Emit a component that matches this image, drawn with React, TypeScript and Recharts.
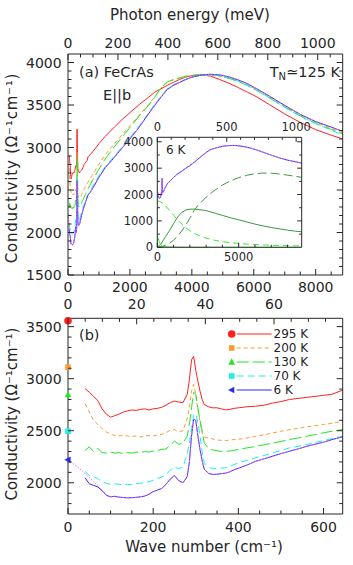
import React from 'react';
import { ComposedChart, LineChart, Line, XAxis, YAxis, Scatter, Legend } from 'recharts';

const FONT = '"DejaVu Sans", Verdana, sans-serif';
const INK = '#262626';

// ---------------- data (conductivity in Ω⁻¹cm⁻¹ vs wave number in cm⁻¹) ----------------
const waveLow = [40, 50, 60, 70, 80, 90, 100, 110, 120, 130, 140, 150, 160, 170, 180, 190, 200, 210, 220, 230, 240, 250, 260, 270, 280,
  285, 290, 295, 300, 305, 310, 315, 320,
  330, 340, 350, 360, 370, 380, 390, 400,
  420, 440, 460, 480, 500, 520, 540, 560, 580, 600, 620, 645];
const waveHigh = [700, 800, 1000, 1200, 1500, 1750, 2000, 2300, 2600, 2800, 3000, 3200, 3400, 3600, 3800, 4000, 4300, 4600, 4900, 5200, 5500, 5800, 6100, 6500, 7000, 7500, 8000, 8500, 8872];

const s295Low = [2905, 2870, 2830, 2790, 2710, 2660, 2630, 2645, 2660, 2680, 2690, 2700, 2695, 2705, 2710, 2700, 2710, 2715, 2725, 2745, 2770, 2785, 2775, 2770, 2850,
  2990, 3180, 3215, 3080, 2975, 2880, 2800, 2750,
  2730, 2720, 2720, 2710, 2700, 2705, 2715, 2720,
  2730, 2735, 2745, 2765, 2780, 2800, 2810, 2820, 2830, 2840, 2850, 2890];
const s200Low = [2760, 2680, 2600, 2560, 2520, 2490, 2465, 2455, 2450, 2455, 2450, 2445, 2450, 2440, 2448, 2455, 2450, 2458, 2465, 2480, 2505, 2510, 2490, 2500, 2620,
  2720, 2880, 2945, 2850, 2700, 2580, 2480, 2440,
  2430, 2420, 2410, 2408, 2405, 2410, 2415, 2418,
  2430, 2445, 2460, 2478, 2495, 2510, 2522, 2537, 2548, 2560, 2572, 2590];
const s130Low = [2310, 2345, 2300, 2330, 2290, 2285, 2295, 2285, 2290, 2280, 2290, 2285, 2295, 2290, 2300, 2295, 2305, 2310, 2320, 2325, 2360, 2400, 2370, 2380, 2450,
  2560, 2720, 2870, 2850, 2720, 2600, 2500, 2380,
  2330, 2315, 2308, 2300, 2302, 2305, 2312, 2320,
  2335, 2348, 2365, 2380, 2397, 2415, 2430, 2447, 2462, 2480, 2495, 2512];
const s70Low = [2110, 2070, 2057, 2040, 2010, 1995, 1985, 1990, 1985, 1980, 1985, 1982, 1990, 1995, 2000, 2010, 2025, 2040, 2055, 2080, 2120, 2150, 2135, 2150, 2280,
  2380, 2520, 2650, 2665, 2580, 2450, 2300, 2190,
  2150, 2135, 2135, 2140, 2145, 2155, 2175, 2190,
  2215, 2240, 2262, 2287, 2310, 2335, 2350, 2367, 2386, 2405, 2425, 2447];
const s6Low = [2048, 1990, 1975, 1960, 1925, 1880, 1865, 1870, 1862, 1858, 1855, 1857, 1860, 1865, 1872, 1890, 1915, 1930, 1945, 1985, 2035, 2070, 2020, 2000, 2060,
  2200, 2447, 2610, 2600, 2450, 2320, 2210, 2130,
  2090, 2080, 2082, 2088, 2092, 2105, 2125, 2140,
  2170, 2205, 2230, 2255, 2280, 2303, 2325, 2350, 2370, 2390, 2415, 2441];

const s295High = [2910, 2950, 3045, 3130, 3240, 3330, 3410, 3505, 3590, 3650, 3690, 3730, 3765, 3800, 3828, 3845, 3855, 3840, 3800, 3755, 3705, 3650, 3595, 3505, 3395, 3295, 3210, 3145, 3100];
const s200High = [2625, 2685, 2805, 2915, 3045, 3150, 3255, 3380, 3505, 3595, 3700, 3765, 3795, 3815, 3830, 3842, 3850, 3850, 3840, 3815, 3780, 3735, 3680, 3597, 3488, 3385, 3298, 3225, 3170];
const s130High = [2550, 2620, 2745, 2865, 3010, 3125, 3235, 3370, 3495, 3590, 3700, 3770, 3800, 3820, 3838, 3850, 3858, 3856, 3843, 3813, 3776, 3728, 3670, 3585, 3475, 3372, 3285, 3212, 3158];
const s70High = [2480, 2545, 2670, 2775, 2900, 3010, 3115, 3255, 3405, 3505, 3600, 3690, 3738, 3770, 3803, 3828, 3848, 3855, 3845, 3818, 3780, 3733, 3673, 3585, 3473, 3366, 3280, 3205, 3145];
const s6High = [2460, 2520, 2650, 2760, 2885, 2995, 3100, 3240, 3395, 3495, 3590, 3680, 3730, 3765, 3800, 3828, 3852, 3862, 3855, 3830, 3795, 3750, 3690, 3605, 3495, 3390, 3305, 3240, 3190];

// Drude-Lorentz fit of the 6 K spectrum below the measured range
const fitLowWave = [0, 20, 40, 60, 80];
const fitLowSigma = [2220, 2160, 2090, 2010, 1930];

// DC conductivities (plotted at zero wave number)
const dcSigma = [3557, 3111, 2846, 2495, 2220];
const tempLabels = ['295 K', '200 K', '130 K', '70 K', '6 K'];

// Inset: 6 K fit components
const compWave = [0, 100, 200, 300, 500, 750, 1000, 1250, 1500, 1750, 2000, 2250, 2500, 3000, 3500, 4000, 4500, 5000, 5500, 6000, 6500, 7000, 7500, 8000, 8500, 8872];
const lorentzMid = [0, 50, 110, 200, 400, 630, 900, 1150, 1320, 1410, 1445, 1448, 1435, 1390, 1300, 1210, 1120, 1040, 960, 880, 810, 750, 700, 650, 610, 590];
const lorentzHigh = [0, 5, 15, 30, 80, 160, 270, 420, 620, 850, 1100, 1380, 1590, 1900, 2150, 2360, 2520, 2640, 2730, 2790, 2815, 2810, 2780, 2735, 2690, 2650];
const drudeBroad = [1750, 1745, 1720, 1685, 1580, 1400, 1215, 1040, 880, 740, 630, 530, 460, 350, 270, 215, 175, 145, 120, 105, 90, 80, 70, 62, 55, 50];
const drudeNarrow = [430, 250, 100, 50, 20, 10, 6, 4, 3, 2, 2, 1, 1, 1, 1, 0, 0, 0, 0, 0, 0, 0, 0, 0, 0, 0];

// axis ranges and ticks
const mainCmRange = [0, 8872];
const mainMevRange = [0, 1100];
const insetMevRange = [0, 1040];
const mainYRange = [1500, 4100];
const lowCmRange = [0, 645];
const lowMevRange = [0, 80];
const lowYRange = [1700, 3580];
const insetYRange = [0, 4170];
const mainYMajor = [1500, 2000, 2500, 3000, 3500, 4000];
const mainCmMajor = [0, 2000, 4000, 6000, 8000];
const mainMevMajor = [0, 200, 400, 600, 800, 1000];
const lowYMajor = [2000, 2500, 3000, 3500];
const lowCmMajor = [0, 200, 400, 600];
const lowMevMajor = [0, 20, 40, 60];
const insetYMajor = [0, 1000, 2000, 3000, 4000];
const insetCmMajor = [0, 5000];
const insetMevMajor = [0, 500, 1000];

// ---------------- helpers ----------------
const pts = (xs: number[], ys: number[]) => xs.map((x, i) => ({ x, y: ys[i] }));
const steps = (from: number, to: number, step: number) => {
  const out: number[] = [];
  for (let v = from; v <= to + 1e-9; v += step) out.push(Math.round(v * 1000) / 1000);
  return out;
};

const waveAll = [...waveLow, ...waveHigh];
const d295 = pts(waveAll, [...s295Low, ...s295High]);
const d200 = pts(waveAll, [...s200Low, ...s200High]);
const d130 = pts(waveAll, [...s130Low, ...s130High]);
const d70 = pts(waveAll, [...s70Low, ...s70High]);
const d6 = pts(waveAll, [...s6Low, ...s6High]);
const dFit = [...pts(fitLowWave, fitLowSigma), ...d6.filter((p) => p.x >= 90)];

const COLORS = ['#ff2020', '#ff9a30', '#22e622', '#20eeee', '#2a2aff'];
const DASHES = [undefined, '4 3', '12 4', '7 4', undefined];
const MARKERS = ['circle', 'square', 'triUp', 'square', 'triLeft'];
const FIT_COLOR = '#ee6cf0';
const DARK_GREEN = '#3c963c';
const BRIGHT_GREEN = '#33ee33';

const mainSeries = [d295, d200, d130, d70, d6];
const lowSeries = mainSeries.map((d) => d.filter((p) => p.x <= lowCmRange[1]));
const lowFit = dFit.filter((p) => p.x <= lowCmRange[1]);

type Side = 'left' | 'right' | 'top' | 'bottom';
const makeTick = (side: Side, majors: number[], o: { label?: boolean; size?: number; gap?: number; major?: number; minor?: number }) =>
  (props: any) => {
    const { x, y, payload } = props;
    const v = Number(payload.value);
    const isMajor = majors.some((m) => Math.abs(m - v) < 1e-6);
    const len = isMajor ? (o.major ?? 6) : (o.minor ?? 3.5);
    let x2 = x;
    let y2 = y;
    if (side === 'bottom') y2 = y - len;
    if (side === 'top') y2 = y + len;
    if (side === 'left') x2 = x + len;
    if (side === 'right') x2 = x - len;
    let label: any = null;
    if (o.label && isMajor) {
      const common = { fontFamily: FONT, fontSize: o.size ?? 14, fill: INK };
      const gap = o.gap ?? 6;
      if (side === 'bottom') label = <text x={x} y={y + gap} textAnchor="middle" {...common}>{v}</text>;
      else if (side === 'top') label = <text x={x} y={y - gap} textAnchor="middle" {...common}>{v}</text>;
      else if (side === 'left') label = <text x={x - gap} y={y} dy="0.36em" textAnchor="end" {...common}>{v}</text>;
    }
    return (
      <g>
        <line x1={x} y1={y} x2={x2} y2={y2} stroke={INK} strokeWidth={1} />
        {label}
      </g>
    );
  };

const axisCommon = {
  tickLine: false,
  tickSize: 0,
  tickMargin: 0,
  interval: 0 as const,
  axisLine: { stroke: INK, strokeWidth: 1 },
  type: 'number' as const,
  allowDataOverflow: true,
};

const MARKER_SIZE: Record<string, number> = { circle: 3.8, square: 5.6, triUp: 6.6, triLeft: 6.6 };
const Marker = ({ kind, cx, cy, color }: { kind: string; cx: number; cy: number; color: string }) => {
  const s = MARKER_SIZE[kind];
  if (kind === 'circle') return <circle cx={cx} cy={cy} r={s} fill={color} />;
  if (kind === 'square') return <rect x={cx - s / 2} y={cy - s / 2} width={s} height={s} fill={color} />;
  if (kind === 'triUp')
    return <polygon points={`${cx},${cy - s * 0.55} ${cx - s * 0.5},${cy + s * 0.4} ${cx + s * 0.5},${cy + s * 0.4}`} fill={color} />;
  return <polygon points={`${cx - s * 0.55},${cy} ${cx + s * 0.4},${cy - s * 0.5} ${cx + s * 0.4},${cy + s * 0.5}`} fill={color} />;
};

const renderLegend = () => (
  <svg width={125} height={72} style={{ display: 'block', overflow: 'visible' }}>
    {tempLabels.map((lab, i) => {
      const y = 7 + i * 14;
      return (
        <g key={lab}>
          <Marker kind={MARKERS[i]} cx={6.7} cy={y} color={COLORS[i]} />
          <line x1={11.7} x2={46.7} y1={y} y2={y} stroke={COLORS[i]} strokeWidth={1} strokeDasharray={DASHES[i]} />
          <text x={48.5} y={y} dy="0.36em" fontFamily={FONT} fontSize={12} fill={INK}>{lab}</text>
        </g>
      );
    })}
  </svg>
);

const lineProps = { type: 'linear' as const, dot: false, activeDot: false, isAnimationActive: false, strokeWidth: 1, dataKey: 'y' };
// invisible anchors so the secondary (meV / right) axes get their domain registered
const anchor = (xr: number[], yr: number[]) => pts(xr, [yr[0], yr[0]]);

export default function App() {
  const abs = (l: number, t: number, w: number, h: number, extra: any = {}) => ({ position: 'absolute' as const, left: l, top: t, width: w, height: h, ...extra });
  return (
    <div style={{ position: 'absolute', left: 0, top: 0, width: 353, height: 565, background: '#fff', overflow: 'hidden' }}>
      {/* ---------- panel (a) ---------- */}
      <div style={abs(0, 0, 353, 300)}>
        <LineChart width={353} height={300} margin={{ top: 24, right: 9.3, bottom: 5, left: 8 }}>
          <XAxis xAxisId="cm" orientation="bottom" dataKey="x" domain={mainCmRange} height={20} ticks={steps(0, 8500, 500)}
            tick={makeTick('bottom', mainCmMajor, { label: true, gap: 16.7 })} {...axisCommon} />
          <XAxis xAxisId="mev" orientation="top" dataKey="x" domain={mainMevRange} height={30} ticks={steps(0, 1050, 50)}
            tick={makeTick('top', mainMevMajor, { label: true, gap: 6.3 })} {...axisCommon} />
          <YAxis yAxisId="l" orientation="left" dataKey="y" domain={mainYRange} width={60} ticks={steps(1500, 4000, 100)}
            tick={makeTick('left', mainYMajor, { label: true, gap: 6.3 })} {...axisCommon} />
          <YAxis yAxisId="r" orientation="right" dataKey="y" domain={mainYRange} width={1} ticks={steps(1600, 4000, 100)}
            tick={makeTick('right', mainYMajor, {})} {...axisCommon} />
          <Line name="axis anchor" data={anchor(mainMevRange, mainYRange)} xAxisId="mev" yAxisId="r" stroke="none" legendType="none" {...lineProps} />
          {mainSeries.map((d, i) => (
            <Line key={tempLabels[i]} name={tempLabels[i]} data={d} xAxisId="cm" yAxisId="l" stroke={COLORS[i]} strokeDasharray={DASHES[i]} {...lineProps} />
          ))}
          <Line name="fit" data={dFit} xAxisId="cm" yAxisId="l" stroke={FIT_COLOR} strokeDasharray="1.5 1.5" {...lineProps} />
        </LineChart>
      </div>

      {/* ---------- inset ---------- */}
      <div style={abs(157.3, 137.3, 144.4, 110, { background: '#fff' })} />
      <div style={abs(117, 115, 195, 155)}>
        <LineChart width={195} height={155} margin={{ top: 0.3, right: 9.3, bottom: 2.7, left: 0.3 }}>
          <XAxis xAxisId="cm" orientation="bottom" dataKey="x" domain={mainCmRange} height={20} ticks={steps(0, 8000, 1000)}
            tick={makeTick('bottom', insetCmMajor, { label: true, gap: 14, size: 11.5, major: 4.5, minor: 2.5 })} {...axisCommon} />
          <XAxis xAxisId="mev" orientation="top" dataKey="x" domain={insetMevRange} height={22} ticks={steps(0, 1000, 100)}
            tick={makeTick('top', insetMevMajor, { label: true, gap: 6.6, size: 11.5, major: 4.5, minor: 2.5 })} {...axisCommon} />
          <YAxis yAxisId="l" orientation="left" dataKey="y" domain={insetYRange} width={40} ticks={steps(0, 4000, 500)}
            tick={makeTick('left', insetYMajor, { label: true, gap: 4.3, size: 11.5, major: 4.5, minor: 2.5 })} {...axisCommon} />
          <YAxis yAxisId="r" orientation="right" dataKey="y" domain={insetYRange} width={1} ticks={steps(500, 4000, 500)}
            tick={makeTick('right', insetYMajor, { major: 4.5, minor: 2.5 })} {...axisCommon} />
          <Line name="axis anchor" data={anchor(insetMevRange, insetYRange)} xAxisId="mev" yAxisId="r" stroke="none" legendType="none" {...lineProps} />
          <Line name="L high" data={pts(compWave, lorentzHigh)} xAxisId="cm" yAxisId="l" stroke={DARK_GREEN} strokeDasharray="9 4" {...lineProps} />
          <Line name="L mid" data={pts(compWave, lorentzMid)} xAxisId="cm" yAxisId="l" stroke={DARK_GREEN} {...lineProps} />
          <Line name="Drude broad" data={pts(compWave, drudeBroad)} xAxisId="cm" yAxisId="l" stroke={BRIGHT_GREEN} strokeDasharray="6 4" {...lineProps} />
          <Line name="Drude narrow" data={pts(compWave, drudeNarrow)} xAxisId="cm" yAxisId="l" stroke={BRIGHT_GREEN} {...lineProps} />
          <Line name="6 K" data={d6} xAxisId="cm" yAxisId="l" stroke={COLORS[4]} {...lineProps} />
          <Line name="fit" data={dFit} xAxisId="cm" yAxisId="l" stroke={FIT_COLOR} strokeDasharray="1.5 1.5" {...lineProps} />
        </LineChart>
      </div>

      {/* ---------- panel (b) ---------- */}
      <div style={abs(0, 290, 353, 275)}>
        <ComposedChart width={353} height={275} margin={{ top: 0.3, right: 9.3, bottom: 31, left: 8 }}>
          <XAxis xAxisId="cm" orientation="bottom" dataKey="x" domain={lowCmRange} height={20} ticks={steps(0, 600, 50)}
            tick={makeTick('bottom', lowCmMajor, { label: true, gap: 17.7 })} {...axisCommon} allowDataOverflow={false} />
          <XAxis xAxisId="mev" orientation="top" dataKey="x" domain={lowMevRange} height={28} ticks={steps(0, 75, 5)}
            tick={makeTick('top', lowMevMajor, { label: true, gap: 9 })} {...axisCommon} />
          <YAxis yAxisId="l" orientation="left" dataKey="y" domain={lowYRange} width={60} ticks={steps(1800, 3500, 100)}
            tick={makeTick('left', lowYMajor, { label: true, gap: 6.3 })} {...axisCommon} allowDataOverflow={false} />
          <YAxis yAxisId="r" orientation="right" dataKey="y" domain={lowYRange} width={1} ticks={steps(1800, 3500, 100)}
            tick={makeTick('right', lowYMajor, {})} {...axisCommon} />
          <Line name="axis anchor" data={anchor(lowMevRange, lowYRange)} xAxisId="mev" yAxisId="r" stroke="none" legendType="none" {...lineProps} />
          {lowSeries.map((d, i) => (
            <Line key={tempLabels[i]} name={tempLabels[i]} data={d} xAxisId="cm" yAxisId="l" stroke={COLORS[i]} strokeDasharray={DASHES[i]} {...lineProps} />
          ))}
          <Line name="fit" data={lowFit} xAxisId="cm" yAxisId="l" stroke={FIT_COLOR} strokeDasharray="1.5 1.5" {...lineProps} />
          {dcSigma.map((v, i) => (
            <Scatter key={'dc' + i} name={'dc ' + tempLabels[i]} data={[{ x: 0, y: v }]} xAxisId="cm" yAxisId="l" dataKey="y" isAnimationActive={false}
              shape={(p: any) => <Marker kind={MARKERS[i]} cx={p.cx} cy={p.cy} color={COLORS[i]} />} />
          ))}
          <Legend layout="vertical" align="center" verticalAlign="middle" content={renderLegend}
            wrapperStyle={{ left: 225, top: 37, width: 125, height: 72 }} />
        </ComposedChart>
      </div>

      {/* ---------- annotations ---------- */}
      <svg width={353} height={565} style={{ position: 'absolute', left: 0, top: 0, pointerEvents: 'none' }} fontFamily={FONT} fill={INK}>
        <text x={190} y={20} textAnchor="middle" fontSize={15}>Photon energy (meV)</text>
        <text x={79} y={76.7} fontSize={14.5}>(a) FeCrAs</text>
        <text x={103} y={100} fontSize={14.5}>E||b</text>
        <text x={340} y={76.7} textAnchor="end" fontSize={14.5}>
          T<tspan fontSize={10} dy={3}>N</tspan><tspan dy={-3}>≃125 K</tspan>
        </text>
        <text x={166} y={154} fontSize={12}>6 K</text>
        <text x={79} y={340} fontSize={14.5}>(b)</text>
        <text x={204} y={551.5} textAnchor="middle" fontSize={15}>Wave number (cm⁻¹)</text>
        <text transform="translate(16.5,168) rotate(-90)" textAnchor="middle" fontSize={15} letterSpacing={0.8}>Conductivity (Ω⁻¹cm⁻¹)</text>
        <text transform="translate(16.5,414) rotate(-90)" textAnchor="middle" fontSize={15}>Conductivity (Ω⁻¹cm⁻¹)</text>
      </svg>
    </div>
  );
}
